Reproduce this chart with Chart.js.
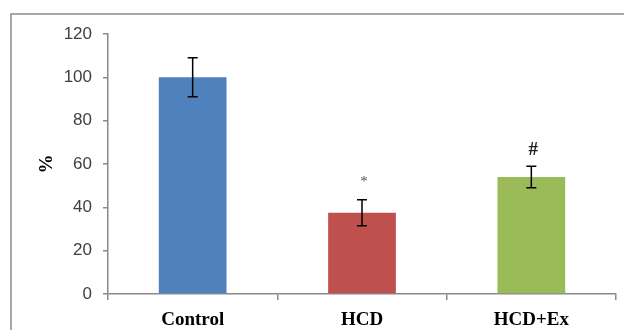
<!DOCTYPE html>
<html>
<head>
<meta charset="utf-8">
<script src="https://cdn.jsdelivr.net/npm/chart.js@4"></script>
<style>
html,body{margin:0;padding:0;background:#fff;}
#wrap{width:624px;height:330px;position:relative;}
</style>
</head>
<body>
<div id="wrap"><canvas id="c" width="624" height="330"></canvas></div>
<script>
const categories = ["Control", "HCD", "HCD+Ex"];
const values = [100, 37.5, 54];
const errors = [9, 6, 5];
const marks = ["", "*", "#"];
const barColors = ["#4F81BD", "#C0504D", "#9BBB59"];
const yTicks = [0, 20, 40, 60, 80, 100, 120];

const extras = {
  id: 'extras',
  afterDatasetsDraw(chart) {
    const ctx = chart.ctx;
    const y = chart.scales.y;
    const meta = chart.getDatasetMeta(0);
    ctx.save();
    // frame
    ctx.strokeStyle = '#8a8a8a';
    ctx.lineWidth = 1.5;
    ctx.beginPath();
    ctx.moveTo(11, 330);
    ctx.lineTo(11, 14);
    ctx.lineTo(624, 14);
    ctx.stroke();
    // error bars
    ctx.strokeStyle = '#000';
    ctx.lineWidth = 1.5;
    meta.data.forEach((bar, i) => {
      const x = bar.x;
      const yt = y.getPixelForValue(values[i] + errors[i]);
      const yb = y.getPixelForValue(values[i] - errors[i]);
      ctx.beginPath();
      ctx.moveTo(x, yt); ctx.lineTo(x, yb);
      ctx.moveTo(x - 5, yt); ctx.lineTo(x + 5, yt);
      ctx.moveTo(x - 5, yb); ctx.lineTo(x + 5, yb);
      ctx.stroke();
      // significance marks
      if (marks[i]) {
        ctx.textAlign = 'center';
        ctx.textBaseline = 'middle';
        if (marks[i] === '*') {
          ctx.fillStyle = '#555';
          ctx.font = '15px "Liberation Serif"';
          ctx.fillText(marks[i], x + 2, yt - 18);
        } else {
          ctx.fillStyle = '#222';
          ctx.font = 'bold 19px "Liberation Serif"';
          ctx.fillText(marks[i], x + 2, yt - 16);
        }
      }
    });
    ctx.restore();
  }
};

new Chart(document.getElementById('c'), {
  type: 'bar',
  data: {
    labels: categories,
    datasets: [{
      data: values,
      backgroundColor: barColors,
      borderWidth: 0,
      categoryPercentage: 1,
      barPercentage: 0.4
    }]
  },
  options: {
    responsive: false,
    animation: false,
    devicePixelRatio: 1,
    layout: { padding: { top: 34, right: 8, bottom: 0, left: 0 } },
    plugins: { legend: { display: false }, tooltip: { enabled: false } },
    scales: {
      x: {
        offset: true,
        grid: { offset: true, drawOnChartArea: false, drawTicks: true, tickLength: 6, color: '#8a8a8a', lineWidth: 1.5 },
        border: { color: '#8a8a8a', width: 1.5 },
        ticks: { color: '#000', padding: 9, font: { family: '"Liberation Serif"', size: 19, weight: 'bold' } },
        afterFit(s) { s.height = 36; }
      },
      y: {
        min: 0, max: 120,
        afterBuildTicks(s) { s.ticks = yTicks.map(v => ({ value: v })); },
        grid: { drawOnChartArea: false, drawTicks: true, tickLength: 5, color: '#8a8a8a', lineWidth: 1.5 },
        border: { color: '#8a8a8a', width: 1.5 },
        ticks: { color: '#404040', padding: 11, font: { family: '"Liberation Sans"', size: 17 } },
        title: { display: true, text: '%', color: '#000', padding: { top: 36, bottom: 0 }, font: { family: '"Liberation Serif"', size: 19, weight: 'bold' } },
        afterFit(s) { s.width = 108; }
      }
    }
  },
  plugins: [extras]
});
</script>
</body>
</html>
